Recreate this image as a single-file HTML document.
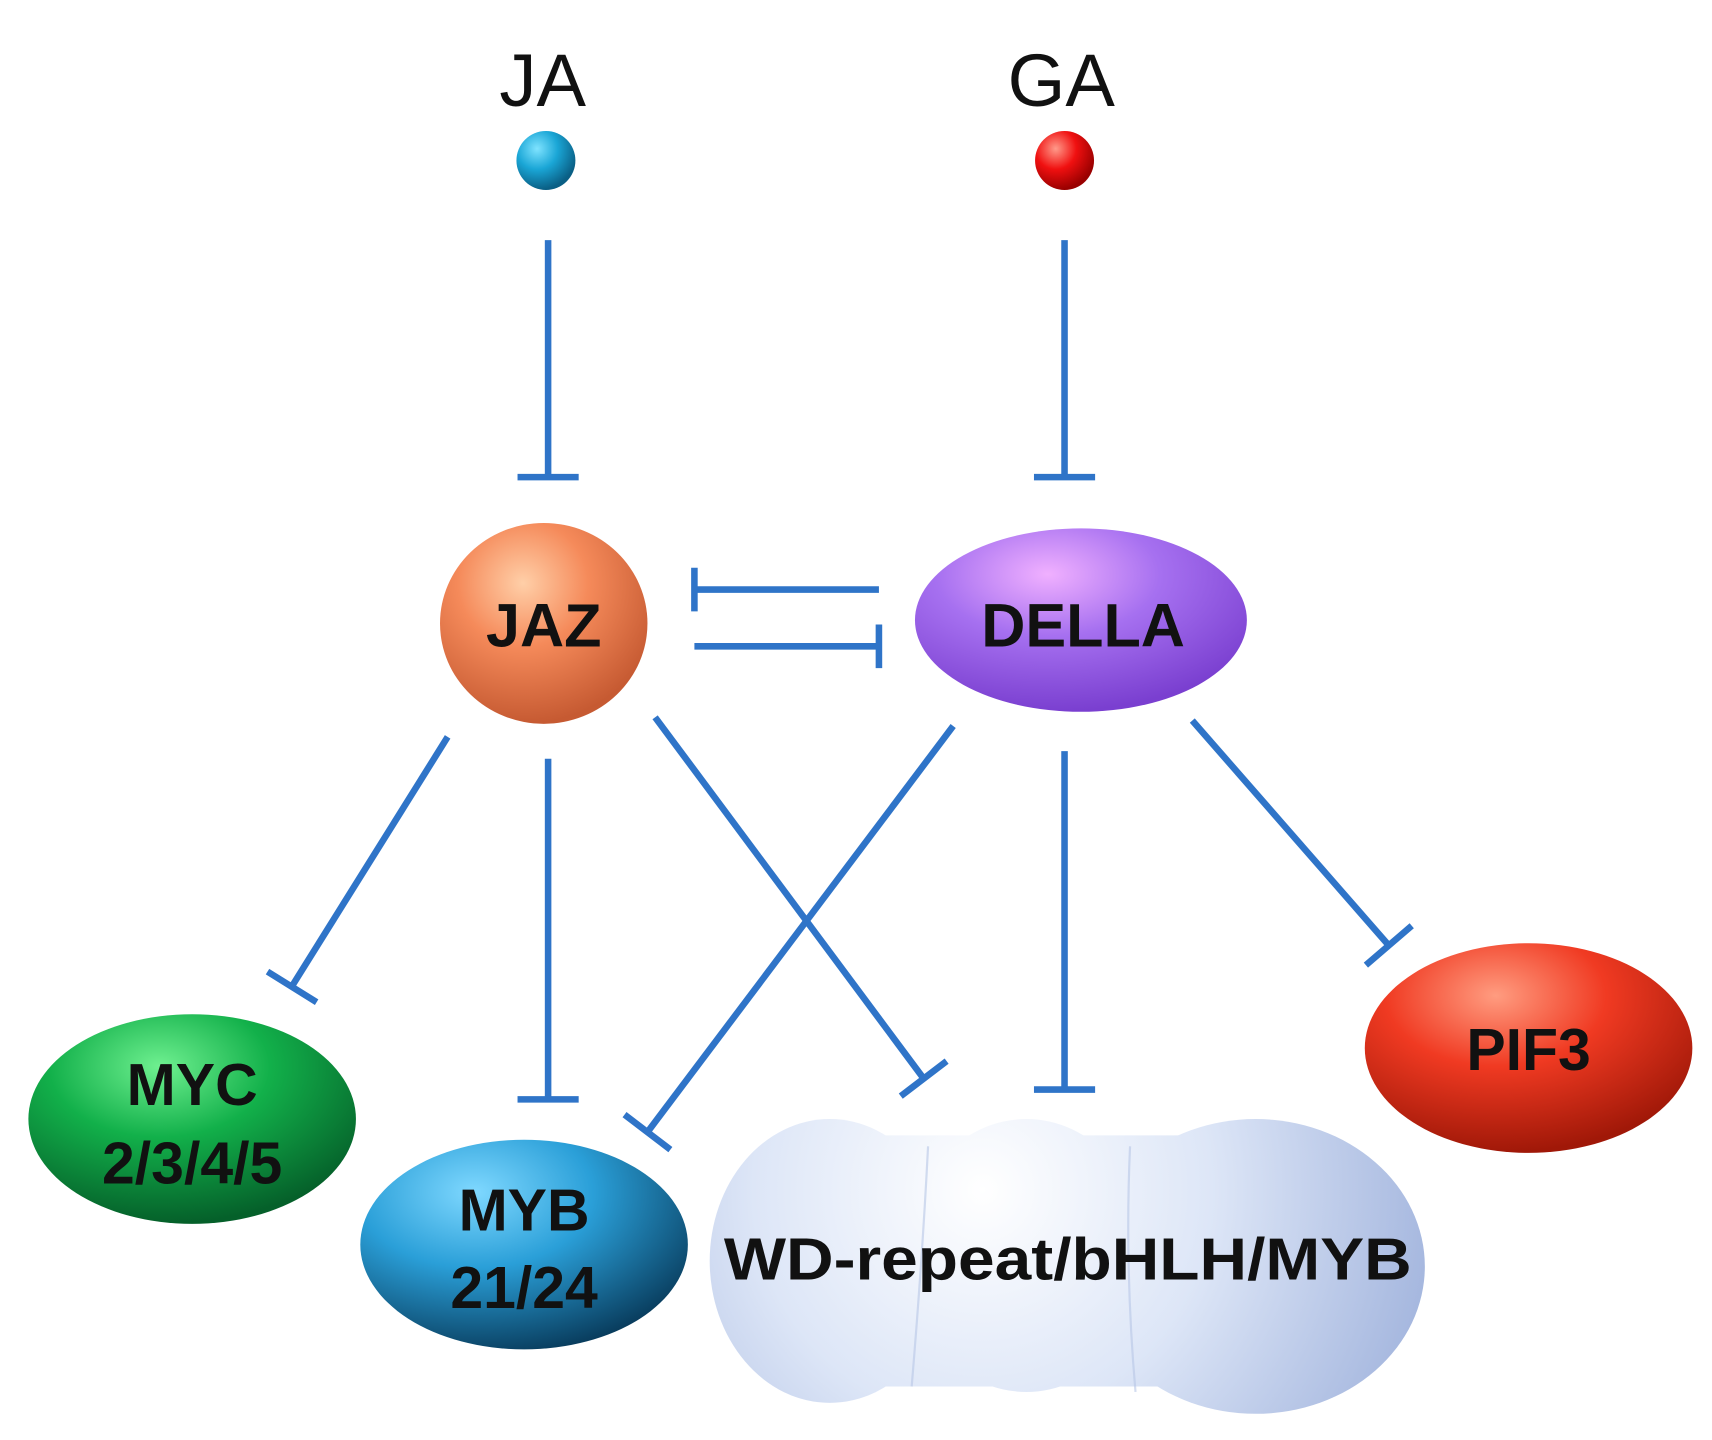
<!DOCTYPE html>
<html><head><meta charset="utf-8"><style>
html,body{margin:0;padding:0;background:#fff;}
svg{display:block;width:1712px;height:1440px;}
text{font-family:"Liberation Sans",Arial,sans-serif;}
</style></head><body>
<svg viewBox="0 0 1568 1319" preserveAspectRatio="none" xmlns="http://www.w3.org/2000/svg">
<defs>
<radialGradient id="gb" cx="35%" cy="30%" r="70%"><stop offset="0" stop-color="#7fe3ff"/><stop offset="0.5" stop-color="#1aa6d6"/><stop offset="1" stop-color="#0a5f85"/></radialGradient>
<radialGradient id="gr" cx="35%" cy="30%" r="70%"><stop offset="0" stop-color="#ff9a8a"/><stop offset="0.5" stop-color="#f01010"/><stop offset="1" stop-color="#9a0000"/></radialGradient>
<radialGradient id="jaz" cx="40%" cy="30%" r="70%"><stop offset="0" stop-color="#ffcfa8"/><stop offset="0.45" stop-color="#f58a5a"/><stop offset="1" stop-color="#c65a32"/></radialGradient>
<radialGradient id="della" cx="40%" cy="25%" r="75%"><stop offset="0" stop-color="#f0b0ff"/><stop offset="0.45" stop-color="#a670f0"/><stop offset="1" stop-color="#7a3fd0"/></radialGradient>
<radialGradient id="myc" cx="40%" cy="25%" r="75%"><stop offset="0" stop-color="#6ff090"/><stop offset="0.45" stop-color="#12b04a"/><stop offset="1" stop-color="#05602a"/></radialGradient>
<radialGradient id="myb" cx="35%" cy="25%" r="80%"><stop offset="0" stop-color="#7fd8ff"/><stop offset="0.45" stop-color="#2a9fd8"/><stop offset="1" stop-color="#083a5a"/></radialGradient>
<radialGradient id="pif" cx="40%" cy="25%" r="75%"><stop offset="0" stop-color="#ff9c80"/><stop offset="0.45" stop-color="#f03a22"/><stop offset="1" stop-color="#a01808"/></radialGradient>
<radialGradient id="wd" gradientUnits="userSpaceOnUse" cx="900" cy="1090" r="420"><stop offset="0" stop-color="#ffffff"/><stop offset="0.5" stop-color="#dde6f7"/><stop offset="1" stop-color="#a4b6de"/></radialGradient>
</defs>
<text x="497" y="97" font-size="68" text-anchor="middle" fill="#111">JA</text>
<text x="972" y="97" font-size="68" text-anchor="middle" fill="#111">GA</text>
<circle cx="500" cy="147" r="27" fill="url(#gb)"/>
<circle cx="975" cy="147" r="27" fill="url(#gr)"/>
<g stroke="#2f74c8" stroke-width="6" fill="none">
<line x1="502" y1="220" x2="502" y2="437"/><line x1="474" y1="437" x2="530" y2="437"/>
<line x1="975" y1="220" x2="975" y2="437"/><line x1="947" y1="437" x2="1003" y2="437"/>
<line x1="805" y1="540" x2="636" y2="540"/><line x1="636" y1="520" x2="636" y2="560"/>
<line x1="636" y1="592" x2="805" y2="592"/><line x1="805" y1="572" x2="805" y2="612"/>
<line x1="410" y1="675" x2="267" y2="904"/><line x1="245" y1="890" x2="290" y2="918"/>
<line x1="502" y1="695" x2="502" y2="1007"/><line x1="474" y1="1007" x2="530" y2="1007"/>
<line x1="600" y1="657" x2="846" y2="988"/><line x1="825" y1="1004" x2="867" y2="972"/>
<line x1="873" y1="665" x2="593" y2="1037"/><line x1="572" y1="1021" x2="614" y2="1053"/>
<line x1="975" y1="688" x2="975" y2="998"/><line x1="947" y1="998" x2="1003" y2="998"/>
<line x1="1092" y1="660" x2="1272" y2="866"/><line x1="1251" y1="884" x2="1293" y2="848"/>
</g>
<ellipse cx="498" cy="571" rx="95" ry="92" fill="url(#jaz)"/>
<text x="498" y="592" font-size="56" font-weight="bold" text-anchor="middle" fill="#111">JAZ</text>
<ellipse cx="990" cy="568" rx="152" ry="84" fill="url(#della)"/>
<text x="992" y="592" font-size="56" font-weight="bold" text-anchor="middle" fill="#111">DELLA</text>
<ellipse cx="176" cy="1025" rx="150" ry="96" fill="url(#myc)"/>
<text x="176" y="1012" font-size="54" font-weight="bold" text-anchor="middle" fill="#111">MYC</text>
<text x="176" y="1084" font-size="54" font-weight="bold" text-anchor="middle" fill="#111">2/3/4/5</text>
<ellipse cx="480" cy="1140" rx="150" ry="96" fill="url(#myb)"/>
<text x="480" y="1127" font-size="54" font-weight="bold" text-anchor="middle" fill="#111">MYB</text>
<text x="480" y="1198" font-size="54" font-weight="bold" text-anchor="middle" fill="#111">21/24</text>
<ellipse cx="1400" cy="960" rx="150" ry="96" fill="url(#pif)"/>
<text x="1400" y="980" font-size="54" font-weight="bold" text-anchor="middle" fill="#111">PIF3</text>
<g fill="url(#wd)">
<ellipse cx="760" cy="1155" rx="110" ry="130"/>
<ellipse cx="940" cy="1150" rx="110" ry="125"/>
<ellipse cx="1150" cy="1160" rx="155" ry="135"/>
<rect x="700" y="1040" width="520" height="230" rx="40"/>
</g>
<g fill="none" stroke="#b8c6e6" stroke-width="2" opacity="0.6">
<path d="M850,1050 Q845,1150 835,1270"/>
<path d="M1035,1050 Q1030,1160 1040,1275"/>
</g>
<text x="978" y="1172" font-size="54" font-weight="bold" text-anchor="middle" fill="#111" textLength="630" lengthAdjust="spacingAndGlyphs">WD-repeat/bHLH/MYB</text>
</svg>
</body></html>
